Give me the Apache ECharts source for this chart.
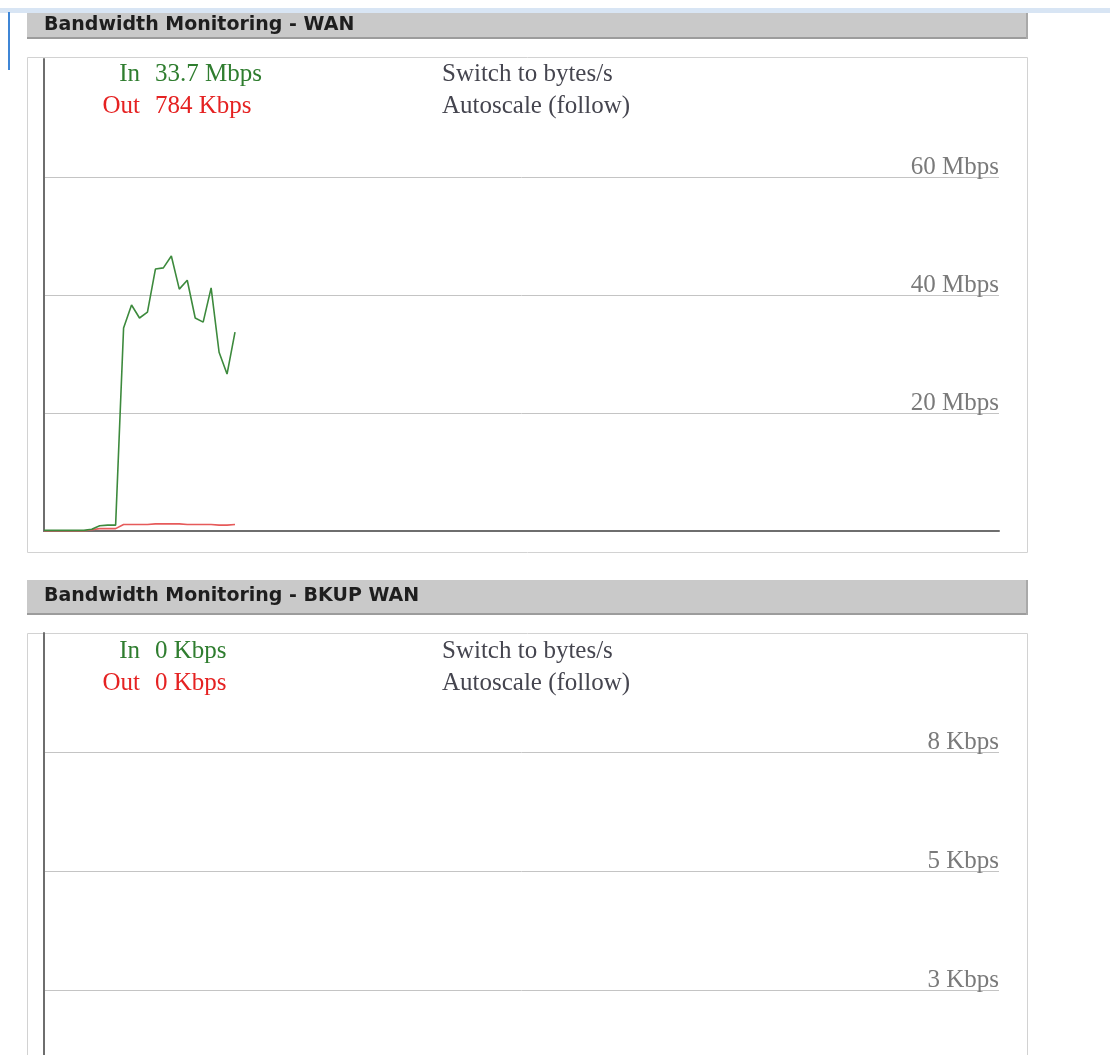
<!DOCTYPE html>
<html>
<head>
<meta charset="utf-8">
<script src="https://cdn.jsdelivr.net/npm/echarts@6/dist/echarts.min.js"></script>
<style>
  html,body{margin:0;padding:0;background:#fff;overflow:hidden;}
  /* taller than the window: the BKUP graph runs past the bottom edge */
  #main{width:1110px;height:1120px;}
</style>
</head>
<body>
<div id="main"></div>
<script>
// WAN graph, samples in Mbps (oldest first)
const wanIn = [0.1,0.1,0.1,0.1,0.1,0.1,0.3,0.9,1.0,1.0,34.4,38.3,36.1,37.1,44.4,44.6,46.6,41.0,42.5,36.1,35.4,41.2,30.3,26.6,33.7];
const wanOut = [0,0,0,0,0,0,0.2,0.4,0.4,0.4,1.1,1.1,1.1,1.1,1.2,1.2,1.2,1.2,1.1,1.1,1.1,1.1,1.0,1.0,1.1];
// BKUP WAN graph, samples in Kbps
const bkupIn = [0,0,0,0,0,0,0,0,0,0,0,0,0,0,0,0,0,0,0,0,0,0,0,0,0];
const bkupOut = [0,0,0,0,0,0,0,0,0,0,0,0,0,0,0,0,0,0,0,0,0,0,0,0,0];

const wanTicks = ['20 Mbps','40 Mbps','60 Mbps'];
const bkupTicks = ['3 Kbps','5 Kbps','8 Kbps'];

const wanLegend = ['33.7 Mbps','784 Kbps'];
const bkupLegend = ['0 Kbps','0 Kbps'];
const headers = ['Bandwidth Monitoring - WAN','Bandwidth Monitoring - BKUP WAN'];
const links = ['Switch to bytes/s','Autoscale (follow)'];

const windowSize = 120; // points kept in the graph window

const serif = '"Liberation Serif", "Times New Roman", serif';
const inColor = '#3d8a3d';
const outColor = '#e65a5a';

let chart = echarts.init(document.getElementById('main'), null, {renderer:'canvas'});

function pairs(arr){
  return arr.map(function(v,i){ return [i,v]; });
}

function xAxisFor(idx){
  return {
    type:'value', gridIndex:idx, min:0, max:windowSize,
    axisLine:{show:true,onZero:false,lineStyle:{color:'#6e6e6e',width:2}},
    axisTick:{show:false}, axisLabel:{show:false}, splitLine:{show:false}
  };
}

function yAxisLabels(idx,max,interval,ticks){
  return {
    type:'value', gridIndex:idx, position:'right', min:0, max:max, interval:interval,
    axisLine:{show:false}, axisTick:{show:false},
    axisLabel:{
      inside:true, margin:0, color:'#7a7a7a', fontFamily:serif, fontSize:25,
      verticalAlign:'bottom', lineHeight:20,
      showMinLabel:false, showMaxLabel:false,
      formatter:function(v){
        return ticks[Math.round(v/interval)-1] || '';
      }
    },
    splitLine:{show:true,showMinLine:false,showMaxLine:false,lineStyle:{color:'#c4c4c4',width:1}}
  };
}

function yAxisLine(idx,max){
  return {
    type:'value', gridIndex:idx, position:'left', min:0, max:max,
    axisLine:{show:true,lineStyle:{color:'#6e6e6e',width:2}},
    axisTick:{show:false}, axisLabel:{show:false}, splitLine:{show:false}
  };
}

function legendTexts(top,values){
  return [
    {type:'text',x:140,y:top,style:{text:'In',fill:'#2f7d2f',font:'25px '+serif,align:'right',verticalAlign:'middle'}},
    {type:'text',x:155,y:top,style:{text:values[0],fill:'#2f7d2f',font:'25px '+serif,verticalAlign:'middle'}},
    {type:'text',x:140,y:top+32,style:{text:'Out',fill:'#e52222',font:'25px '+serif,align:'right',verticalAlign:'middle'}},
    {type:'text',x:155,y:top+32,style:{text:values[1],fill:'#e52222',font:'25px '+serif,verticalAlign:'middle'}},
    {type:'text',x:442,y:top,style:{text:links[0],fill:'#45454f',font:'25px '+serif,verticalAlign:'middle'}},
    {type:'text',x:442,y:top+32,style:{text:links[1],fill:'#45454f',font:'25px '+serif,verticalAlign:'middle'}}
  ];
}

function header(y,h,text){
  return [
    {type:'rect',shape:{x:27,y:y,width:1001,height:h},style:{fill:'#c9c9c9'}},
    {type:'rect',shape:{x:27,y:y+h-2,width:1001,height:2},style:{fill:'#9c9c9c'}},
    {type:'rect',shape:{x:1026,y:y,width:2,height:h},style:{fill:'#a9a9a9'}},
    {type:'text',x:44,y:y+h/2-1,style:{text:text,fill:'#1e1e1e',font:'bold 19px "DejaVu Sans", Verdana, sans-serif',verticalAlign:'middle'}}
  ];
}

let graphics = [].concat(
  [{type:'rect',shape:{x:0,y:8,width:1110,height:5},style:{fill:'#d8e5f4'}}],
  header(13,26,headers[0]),
  [{type:'rect',shape:{x:8,y:12,width:2,height:58},style:{fill:'#3f86d6'}}],
  [{type:'rect',shape:{x:27.5,y:57.5,width:1000,height:495},style:{fill:'none',stroke:'#d2d2d2',lineWidth:1}}],
  legendTexts(74,wanLegend),
  header(580,35,headers[1]),
  [{type:'rect',shape:{x:27.5,y:633.5,width:1000,height:500},style:{fill:'none',stroke:'#d2d2d2',lineWidth:1}}],
  legendTexts(651,bkupLegend)
);

function lineSeries(name,data,color,xi,yi){
  return {
    name:name, type:'line', data:pairs(data), xAxisIndex:xi, yAxisIndex:yi,
    showSymbol:false, symbol:'none', animation:false,
    lineStyle:{color:color,width:1.6}, itemStyle:{color:color}
  };
}

let option = {
  animation:false,
  grid:[
    {left:44,right:111,top:59,bottom:589},
    {left:44,right:111,top:633,bottom:11}
  ],
  xAxis:[xAxisFor(0),xAxisFor(1)],
  yAxis:[
    yAxisLabels(0,80,20,wanTicks),
    yAxisLine(0,80),
    yAxisLabels(1,10,2.5,bkupTicks),
    yAxisLine(1,10)
  ],
  graphic:graphics,
  series:[
    lineSeries('Out',wanOut,outColor,0,0),
    lineSeries('In',wanIn,inColor,0,0),
    lineSeries('Out',bkupOut,outColor,1,2),
    lineSeries('In',bkupIn,inColor,1,2)
  ]
};
chart.setOption(option);
</script>
</body>
</html>
